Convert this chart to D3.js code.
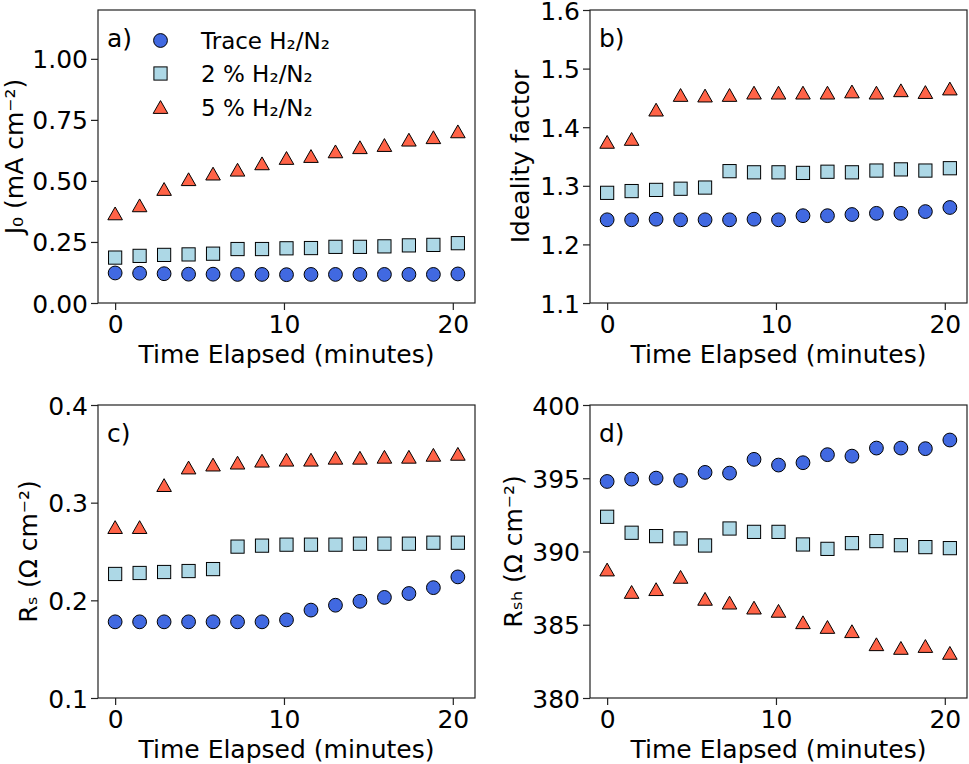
<!DOCTYPE html>
<html><head><meta charset="utf-8">
<script src="https://cdn.jsdelivr.net/npm/d3@7"></script>
<style>
body{margin:0;background:#fff}
svg{display:block}
text{font-family:"DejaVu Sans",sans-serif;fill:#000}
</style>
</head><body>
<svg id="chart" width="969" height="764"></svg>
<script>
// ---------- data ----------
const time = [0, 1.45, 2.9, 4.35, 5.8, 7.25, 8.7, 10.15, 11.6, 13.05, 14.5, 15.95, 17.4, 18.85, 20.3];
const seriesNames = ["Trace H\u2082/N\u2082", "2 % H\u2082/N\u2082", "5 % H\u2082/N\u2082"];

const j0Trace = [0.123,0.122,0.120,0.118,0.118,0.117,0.117,0.116,0.117,0.117,0.117,0.117,0.117,0.117,0.119];
const j0Two   = [0.186,0.193,0.197,0.199,0.202,0.221,0.221,0.224,0.225,0.230,0.230,0.232,0.236,0.238,0.245];
const j0Five  = [0.367,0.400,0.467,0.507,0.530,0.546,0.572,0.594,0.602,0.621,0.638,0.647,0.669,0.679,0.703];

const idealTrace = [1.242,1.242,1.243,1.242,1.242,1.242,1.243,1.242,1.249,1.249,1.251,1.253,1.253,1.256,1.263];
const idealTwo   = [1.288,1.291,1.293,1.295,1.297,1.325,1.323,1.323,1.322,1.324,1.323,1.326,1.328,1.326,1.330];
const idealFive  = [1.375,1.380,1.430,1.455,1.454,1.455,1.459,1.459,1.459,1.459,1.461,1.459,1.463,1.460,1.466];

const rsTrace = [0.178,0.178,0.178,0.178,0.178,0.178,0.178,0.180,0.190,0.195,0.199,0.203,0.207,0.213,0.224];
const rsTwo   = [0.227,0.228,0.229,0.230,0.232,0.255,0.256,0.257,0.257,0.257,0.258,0.258,0.258,0.259,0.259];
const rsFive  = [0.275,0.275,0.318,0.336,0.339,0.341,0.343,0.344,0.344,0.346,0.346,0.347,0.347,0.349,0.350];

const rshTrace = [394.78,394.94,395.01,394.85,395.40,395.35,396.29,395.90,396.06,396.61,396.51,397.06,397.06,397.02,397.61];
const rshTwo   = [392.37,391.28,391.05,390.89,390.41,391.57,391.34,391.34,390.48,390.18,390.57,390.71,390.43,390.30,390.23];
const rshFive  = [388.77,387.24,387.43,388.27,386.77,386.51,386.17,385.95,385.17,384.85,384.56,383.67,383.42,383.55,383.08];

const xTicks = [0, 10, 20];
const yTicksA = [0, 0.25, 0.5, 0.75, 1.0];
const yTicksB = [1.1, 1.2, 1.3, 1.4, 1.5, 1.6];
const yTicksC = [0.1, 0.2, 0.3, 0.4];
const yTicksD = [380, 385, 390, 395, 400];

const panelLabels = ["a)", "b)", "c)", "d)"];
const yLabels = ["J\u2080 (mA cm\u207B\u00B2)", "Ideality factor", "R\u209B (\u03A9 cm\u207B\u00B2)", "R\u209B\u2095 (\u03A9 cm\u207B\u00B2)"];
const xLabel = "Time Elapsed (minutes)";

// ---------- layout / style ----------
const colors = ["#4169E1", "#ADD8E6", "#FF6347"];
const W = 377, H = 293;
const FS = 25;
const xDomain = [-1.015, 21.315];
const panels = [
  {left: 98,  top: 10,  series: [j0Trace, j0Two, j0Five], yDomain: [0, 1.2], ticks: yTicksA, fmt: d3.format(".2f"), ylx: 22.5},
  {left: 590, top: 10,  series: [idealTrace, idealTwo, idealFive], yDomain: [1.1, 1.6], ticks: yTicksB, fmt: d3.format(".1f"), ylx: 529},
  {left: 98,  top: 405, series: [rsTrace, rsTwo, rsFive], yDomain: [0.1, 0.4], ticks: yTicksC, fmt: d3.format(".1f"), ylx: 37},
  {left: 590, top: 405, series: [rshTrace, rshTwo, rshFive], yDomain: [380, 400], ticks: yTicksD, fmt: d3.format("d"), ylx: 522}
];

const svg = d3.select("#chart");
svg.append("rect").attr("width", 969).attr("height", 764).attr("fill", "#fff");

function drawMarker(g, kind, cx, cy) {
  if (kind === 0) {
    g.append("circle").attr("cx", cx).attr("cy", cy).attr("r", 6.9)
      .attr("fill", colors[0]).attr("stroke", "#000").attr("stroke-width", 1);
  } else if (kind === 1) {
    g.append("rect").attr("x", cx - 6.6).attr("y", cy - 6.6).attr("width", 13.2).attr("height", 13.2)
      .attr("fill", colors[1]).attr("stroke", "#000").attr("stroke-width", 1);
  } else {
    const hw = 7.3, hh = 6.4;
    g.append("path").attr("d", `M${cx},${cy - hh}L${cx + hw},${cy + hh}L${cx - hw},${cy + hh}Z`)
      .attr("fill", colors[2]).attr("stroke", "#000").attr("stroke-width", 1).attr("stroke-linejoin", "miter");
  }
}

panels.forEach((p, pi) => {
  const x = d3.scaleLinear().domain(xDomain).range([p.left, p.left + W]);
  const y = d3.scaleLinear().domain(p.yDomain).range([p.top + H, p.top]);
  const g = svg.append("g");

  // markers
  p.series.forEach((vals, si) => {
    const mg = g.append("g");
    vals.forEach((v, i) => drawMarker(mg, si, x(time[i]), y(v)));
  });

  // axes
  const xAxis = d3.axisBottom(x).tickValues(xTicks).tickSize(7).tickPadding(4).tickFormat(d3.format("d"));
  const yAxis = d3.axisLeft(y).tickValues(p.ticks).tickSize(7).tickPadding(4).tickFormat(p.fmt);
  const gx = g.append("g").attr("transform", `translate(0,${p.top + H})`).call(xAxis);
  const gy = g.append("g").attr("transform", `translate(${p.left},0)`).call(yAxis);
  [gx, gy].forEach(ax => {
    ax.select(".domain").remove();
    ax.selectAll(".tick line").attr("stroke", "#222").attr("stroke-width", 1.2);
    ax.selectAll(".tick text").attr("font-size", FS).attr("font-family", "DejaVu Sans").attr("fill", "#000");
  });
  gx.selectAll(".tick text").attr("dy", null).attr("y", 30).attr("dominant-baseline", "auto");
  gy.selectAll(".tick text").attr("dy", "0.36em").attr("x", -10);

  // frame
  g.append("rect").attr("x", p.left).attr("y", p.top).attr("width", W).attr("height", H)
    .attr("fill", "none").attr("stroke", "#222").attr("stroke-width", 1.2);

  // labels
  g.append("text").attr("x", p.left + W / 2).attr("y", p.top + H + 60)
    .attr("text-anchor", "middle").attr("font-size", FS).text(xLabel);
  g.append("text").attr("transform", `translate(${p.ylx},${p.top + H / 2}) rotate(-90)`)
    .attr("text-anchor", "middle").attr("font-size", FS).text(yLabels[pi]);
  g.append("text").attr("x", p.left + 9).attr("y", p.top + 37)
    .attr("font-size", FS).text(panelLabels[pi]);

  // legend (panel a only)
  if (pi === 0) {
    const lg = g.append("g");
    const rowsY = [40.5, 73.5, 107];
    seriesNames.forEach((name, si) => {
      drawMarker(lg, si, 160.5, rowsY[si]);
      lg.append("text").attr("x", 201).attr("y", rowsY[si] + 8.5)
        .attr("font-size", 23).text(name);
    });
  }
});
</script>
</body></html>
